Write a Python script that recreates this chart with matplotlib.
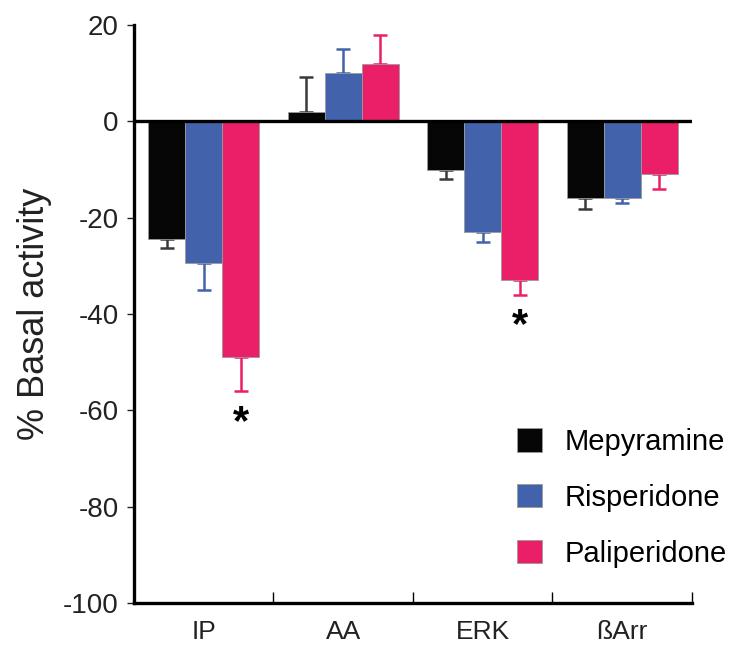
import matplotlib
matplotlib.use('Agg')
import matplotlib.pyplot as plt
import numpy as np

plt.rcParams['font.family'] = ['Liberation Sans', 'DejaVu Sans']
plt.rcParams['axes.unicode_minus'] = False

categories = ['IP', 'AA', 'ERK', 'ßArr']
drugs = ['Mepyramine', 'Risperidone', 'Paliperidone']
colors = ['#060606', '#4263ac', '#ea1f68']
err_colors = ['#3a3a3a', '#4263ac', '#ea1f68']

mepyramine = [-24.5, 2, -10, -16]
mepyramine_err = [1.8, 7.3, 2, 2.2]
risperidone = [-29.5, 10, -23, -16]
risperidone_err = [5.6, 5, 2, 1]
paliperidone = [-49, 12, -33, -11]
paliperidone_err = [7, 6, 3, 3]

# significant results: (series index, category index)
signif = [(2, 0), (2, 2)]

values = [mepyramine, risperidone, paliperidone]
errors = [mepyramine_err, risperidone_err, paliperidone_err]

fig = plt.figure(figsize=[7.31, 6.45], dpi=100)
ax = fig.add_axes([0.1833, 0.0651, 0.7633, 0.8961])

x = np.arange(len(categories))
w = 0.265
for i in range(3):
    v = np.array(values[i])
    e = np.array(errors[i])
    pos = x + (i - 1) * w
    ax.bar(pos, v, width=w, color=colors[i], edgecolor='#9a9a9a', linewidth=0.6,
           label=drugs[i], zorder=2)
    # one-sided error bars pointing away from zero
    lower = np.where(v < 0, e, 0)
    upper = np.where(v >= 0, e, 0)
    ax.errorbar(pos, v, yerr=[lower, upper], fmt='none', ecolor=err_colors[i],
                elinewidth=1.8, capsize=5, capthick=1.8, zorder=1)

for i, j in signif:
    v = values[i][j]
    e = errors[i][j]
    ax.text(x[j] + (i - 1) * w, v - e - 6.6, '*', ha='center', va='center',
            fontsize=30, fontweight='bold', color='black')

ax.axhline(0, color='black', linewidth=2.4, zorder=3)

ax.set_xlim(-0.5, 3.5)
ax.set_ylim(-100, 20)
ax.set_yticks(np.arange(-100, 21, 20))
ax.tick_params(axis='y', labelsize=20, length=5, width=1, pad=6, colors='#222222')
ax.set_xticks(x)
ax.set_xticklabels(categories)
ax.tick_params(axis='x', which='major', length=0, pad=12, labelsize=19, colors='#222222')
ax.set_xticks([0.5, 1.5, 2.5, 3.5], minor=True)
ax.tick_params(axis='x', which='minor', direction='in', length=8, width=1)

for s in ['top', 'right']:
    ax.spines[s].set_visible(False)
for s in ['left', 'bottom']:
    ax.spines[s].set_linewidth(2.4)

ax.set_ylabel('% Basal activity', fontsize=26, labelpad=8, color='#222222')

ax.legend(loc='lower left', bbox_to_anchor=(0.66, 0.036), frameon=False, fontsize=21,
          handlelength=0.85, handleheight=0.85, handletextpad=0.8, labelspacing=0.95,
          borderpad=0)

fig.savefig('out.png', dpi=100)
